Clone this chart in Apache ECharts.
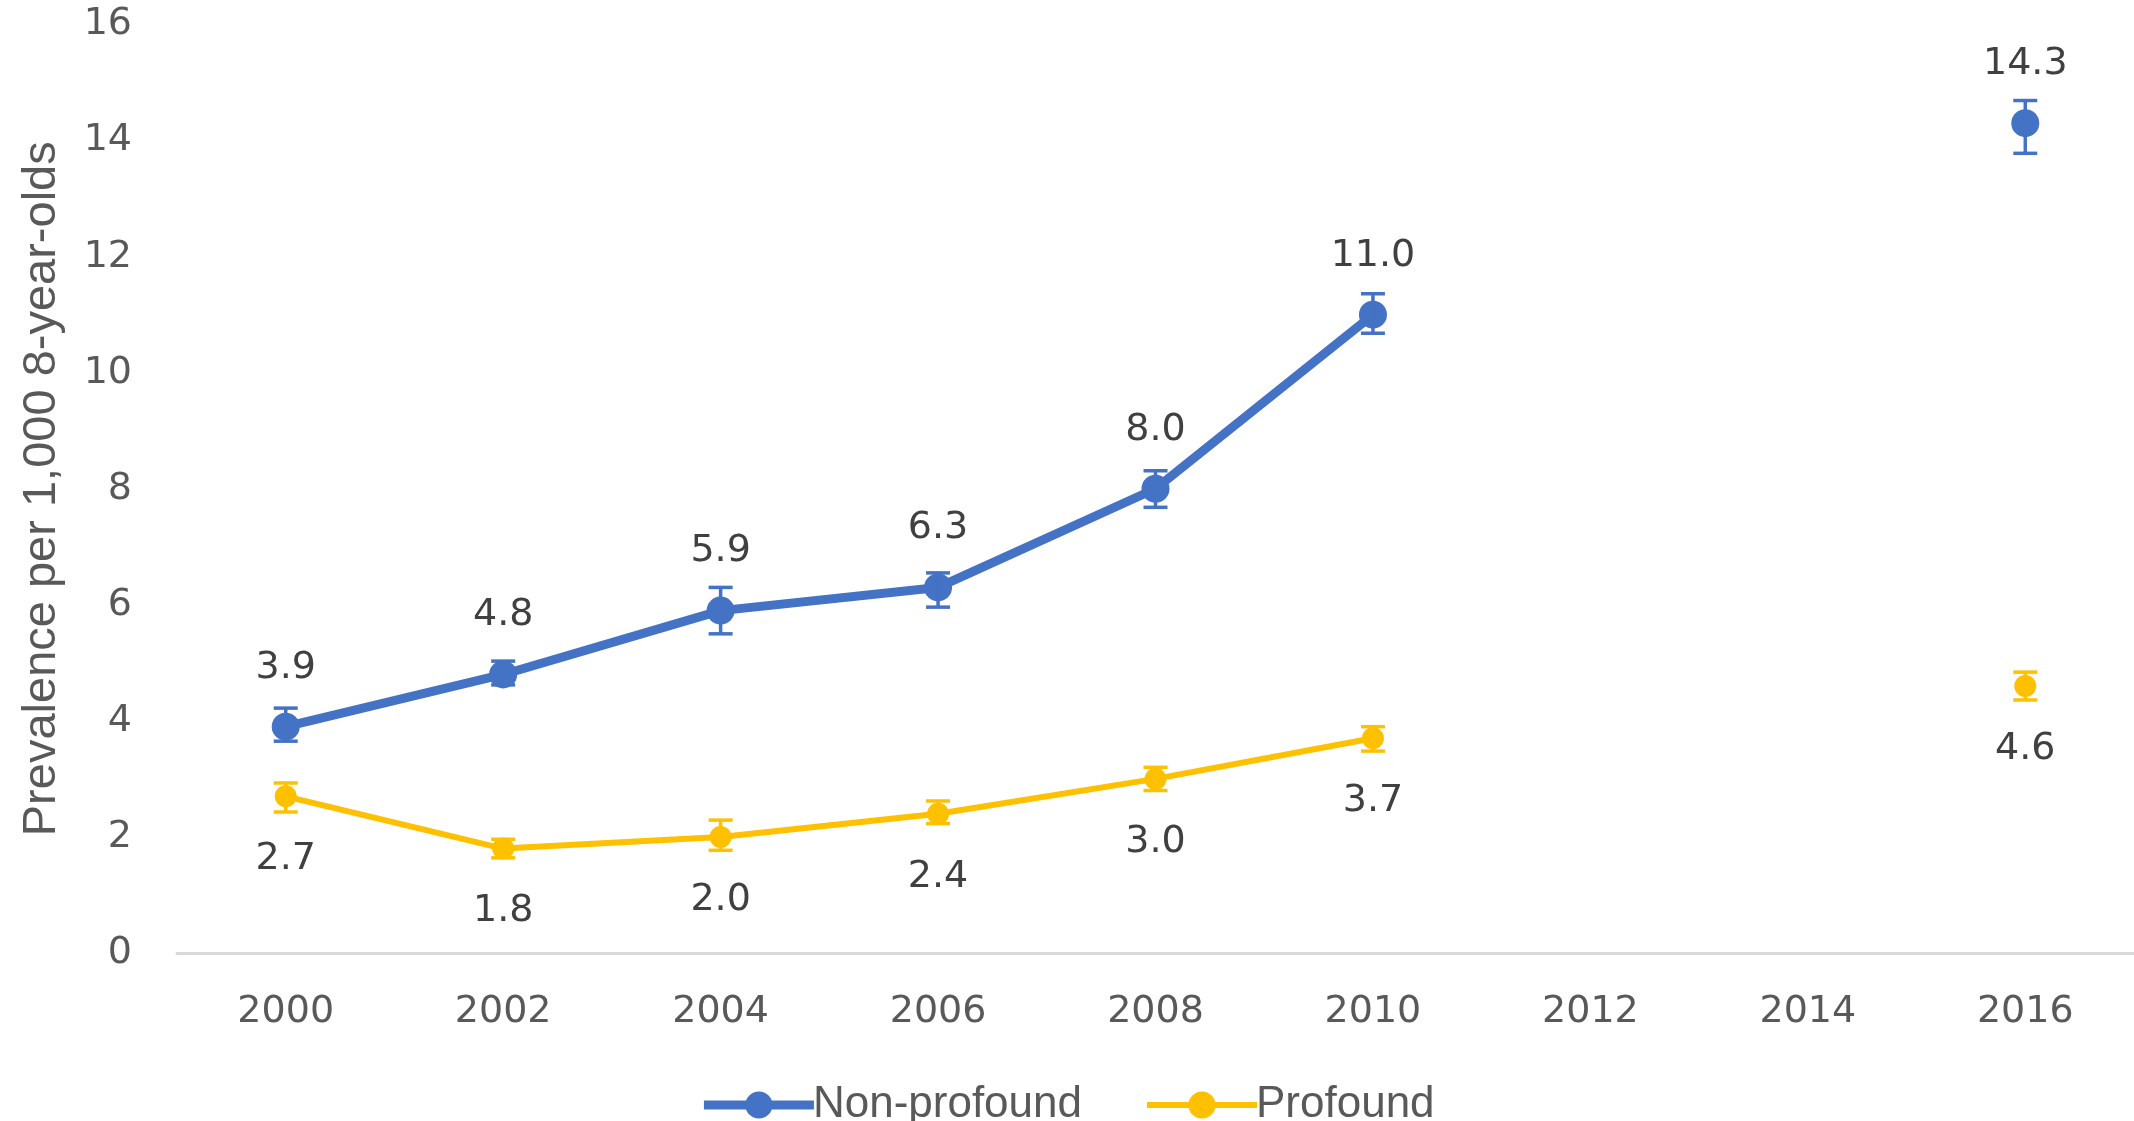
<!DOCTYPE html>
<html>
<head>
<meta charset="utf-8">
<script src="https://cdn.jsdelivr.net/npm/echarts@6/dist/echarts.min.js"></script>
<style>
  html, body { margin: 0; padding: 0; background: #fff; }
  #chart { width: 2134px; height: 1121px; }
</style>
</head>
<body>
<div id="chart"></div>
<script>
const years = ['2000', '2002', '2004', '2006', '2008', '2010', '2012', '2014', '2016'];
const yTicks = [0, 2, 4, 6, 8, 10, 12, 14, 16];

const nonProfound     = [3.9, 4.8, 5.9, 6.3, 8.0, 11.0, null, null, 14.3];
const nonProfoundLow  = [3.65, 4.62, 5.5, 5.96, 7.68, 10.68, null, null, 13.78];
const nonProfoundHigh = [4.22, 5.03, 6.3, 6.55, 8.31, 11.36, null, null, 14.69];

const profound     = [2.7, 1.8, 2.0, 2.4, 3.0, 3.7, null, null, 4.6];
const profoundLow  = [2.43, 1.64, 1.77, 2.23, 2.8, 3.48, null, null, 4.36];
const profoundHigh = [2.93, 1.96, 2.29, 2.62, 3.2, 3.9, null, null, 4.84];

const BLUE = '#4472C4';
const GOLD = '#FFC000';
const FONT = 'DejaVu Sans';

function errorData(low, high) {
  const out = [];
  for (let i = 0; i < years.length; i++) {
    if (low[i] != null) out.push([i, low[i], high[i]]);
  }
  return out;
}

function errorSeries(low, high, color) {
  return {
    type: 'custom',
    data: errorData(low, high),
    z: 5,
    silent: true,
    renderItem: function (params, api) {
      const x = api.value(0);
      const lo = api.coord([x, api.value(1)]);
      const hi = api.coord([x, api.value(2)]);
      const hw = 12;
      const style = { stroke: color, lineWidth: 3.5, fill: null };
      return {
        type: 'group',
        children: [
          { type: 'line', shape: { x1: lo[0], y1: lo[1], x2: hi[0], y2: hi[1] }, style: style },
          { type: 'line', shape: { x1: lo[0] - hw, y1: lo[1], x2: lo[0] + hw, y2: lo[1] }, style: style },
          { type: 'line', shape: { x1: hi[0] - hw, y1: hi[1], x2: hi[0] + hw, y2: hi[1] }, style: style }
        ]
      };
    }
  };
}

const labelFmt = function (p) { return p.value == null ? '' : Number(p.value).toFixed(1); };

const chart = echarts.init(document.getElementById('chart'));
chart.setOption({
  animation: false,
  backgroundColor: '#fff',
  grid: { left: 177, right: 0, top: 24.5, bottom: 168, containLabel: false },
  legend: {
    top: 1078,
    left: 'center',
    itemWidth: 110,
    itemHeight: 34,
    itemGap: 62,
    data: [
      { name: 'Non-profound', lineStyle: { width: 9, color: BLUE }, itemStyle: { color: BLUE } },
      { name: 'Profound', lineStyle: { width: 6, color: GOLD }, itemStyle: { color: GOLD } }
    ],
    textStyle: { fontFamily: 'Liberation Sans', fontSize: 44, color: '#595959', padding: [0, 0, 0, -6] }
  },
  xAxis: {
    type: 'category',
    data: years,
    boundaryGap: true,
    axisLine: { show: true, lineStyle: { color: '#D9D9D9', width: 3 } },
    axisTick: { show: false },
    axisLabel: { fontFamily: FONT, fontSize: 38, color: '#595959', margin: 40 },
    splitLine: { show: false }
  },
  yAxis: {
    type: 'value',
    min: yTicks[0],
    max: yTicks[yTicks.length - 1],
    interval: 2,
    name: 'Prevalence per 1,000 8-year-olds',
    nameLocation: 'middle',
    nameGap: 111,
    nameTextStyle: { fontFamily: 'Liberation Sans', fontSize: 47, color: '#595959' },
    axisLine: { show: false },
    axisTick: { show: false },
    axisLabel: { fontFamily: FONT, fontSize: 38, color: '#595959', margin: 45 },
    splitLine: { show: false }
  },
  series: [
    {
      name: 'Non-profound',
      type: 'line',
      data: nonProfound,
      connectNulls: false,
      symbol: 'circle',
      symbolSize: 28,
      showAllSymbol: true,
      z: 3,
      itemStyle: { color: BLUE },
      lineStyle: { color: BLUE, width: 9 },
      label: {
        show: true, position: 'top', distance: 26,
        fontFamily: FONT, fontSize: 38, color: '#404040', formatter: labelFmt
      }
    },
    {
      name: 'Profound',
      type: 'line',
      data: profound,
      connectNulls: false,
      symbol: 'circle',
      symbolSize: 22,
      showAllSymbol: true,
      z: 3,
      itemStyle: { color: GOLD },
      lineStyle: { color: GOLD, width: 6 },
      label: {
        show: true, position: 'bottom', distance: 33,
        fontFamily: FONT, fontSize: 38, color: '#404040', formatter: labelFmt
      }
    },
    errorSeries(nonProfoundLow, nonProfoundHigh, BLUE),
    errorSeries(profoundLow, profoundHigh, GOLD)
  ]
});
</script>
</body>
</html>
